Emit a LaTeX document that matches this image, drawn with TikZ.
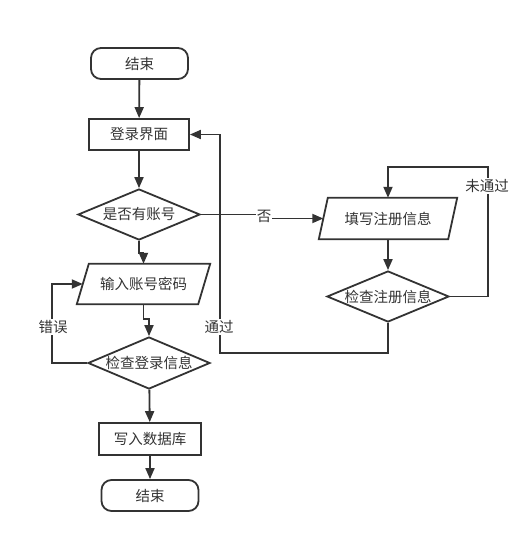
\documentclass[tikz,border=0pt]{standalone}
\usepackage{fontspec}
\setmainfont{Noto Sans CJK SC}
\usetikzlibrary{shapes.geometric,arrows.meta}
\definecolor{ink}{HTML}{333333}
\begin{document}
\begin{tikzpicture}[x=1pt,y=-1pt,
  every node/.style={font=\fontsize{14.5}{17}\selectfont, text=ink},
  base/.style={draw=ink, line width=1.8pt},
  term/.style={base, rectangle, rounded corners=10pt, minimum width=97pt, minimum height=31pt, inner sep=0pt},
  proc/.style={base, rectangle, minimum height=31pt, inner sep=0pt},
  dec/.style={base, diamond, minimum width=122pt, minimum height=51pt, inner sep=0pt},
  io/.style={rectangle, minimum height=40pt, inner sep=0pt},
  arr/.style={draw=ink, line width=1.8pt, -{Triangle[length=11pt,width=9pt]}},
  ln/.style={draw=ink, line width=1.8pt},
  lbl/.style={fill=white, inner sep=1pt}]
\useasboundingbox (0,0) rectangle (531,543);

\node[term] (t1) at (139.5,63.5) {结束};
\node[proc, minimum width=100pt] (r1) at (139,134.5) {登录界面};
\node[dec] (d1) at (139,214.5) {\makebox[0pt]{是否有账号}};
\node[io, minimum width=121pt] (p1) at (143.5,284) {输入账号密码};
\draw[base, line join=miter] ([xshift=6pt]p1.north west) -- ([xshift=6pt]p1.north east) -- ([xshift=-6pt]p1.south east) -- ([xshift=-6pt]p1.south west) -- cycle;
\node[dec, minimum height=52pt] (d2) at (149,363) {\makebox[0pt]{检查登录信息}};
\node[proc, minimum width=102pt, minimum height=32pt] (r2) at (150,439) {写入数据库};
\node[term] (t2) at (150,495.5) {结束};

\node[io, minimum width=129pt, minimum height=41pt] (p2) at (388,218.5) {填写注册信息};
\draw[base, line join=miter] ([xshift=4.5pt]p2.north west) -- ([xshift=4.5pt]p2.north east) -- ([xshift=-4.5pt]p2.south east) -- ([xshift=-4.5pt]p2.south west) -- cycle;
\node[dec] (d3) at (388,296.5) {\makebox[0pt]{检查注册信息}};

% main flow
\draw[arr] (t1) -- (r1);
\draw[arr] (r1) -- (d1);
\draw[arr] (d1.south) -- ++(0,12) -| (p1.north);
\draw[arr] (p1.south) -- ++(0,15) -| (d2.north);
\draw[arr] (d2) -- (r2);
\draw[arr] (r2) -- (t2);

% error loop
\draw[arr] (d2.west) -- ++(-35,0) |- (p1.west);
\node[lbl] (err) at (53,327) {错误};

% no account
\node[lbl] (no) at (264,216.5) {否};
\draw[ln] (d1.east) -- (d1.east -| no.west);
\draw[arr] (no.east |- p2.west) -- (p2.west);

% register flow
\draw[arr] (p2) -- (d3);
\draw[arr] (d3.east) -- ++(38,0) |- ([yshift=31pt]p2.north) -- (p2.north);
\node[lbl] (fail) at (487,186) {未通过};
\draw[arr] (d3.south) -- ++(0,30) -| ([xshift=30pt]r1.east) -- (r1.east);
\node[lbl] (pass) at (219,327) {通过};
\end{tikzpicture}
\end{document}
